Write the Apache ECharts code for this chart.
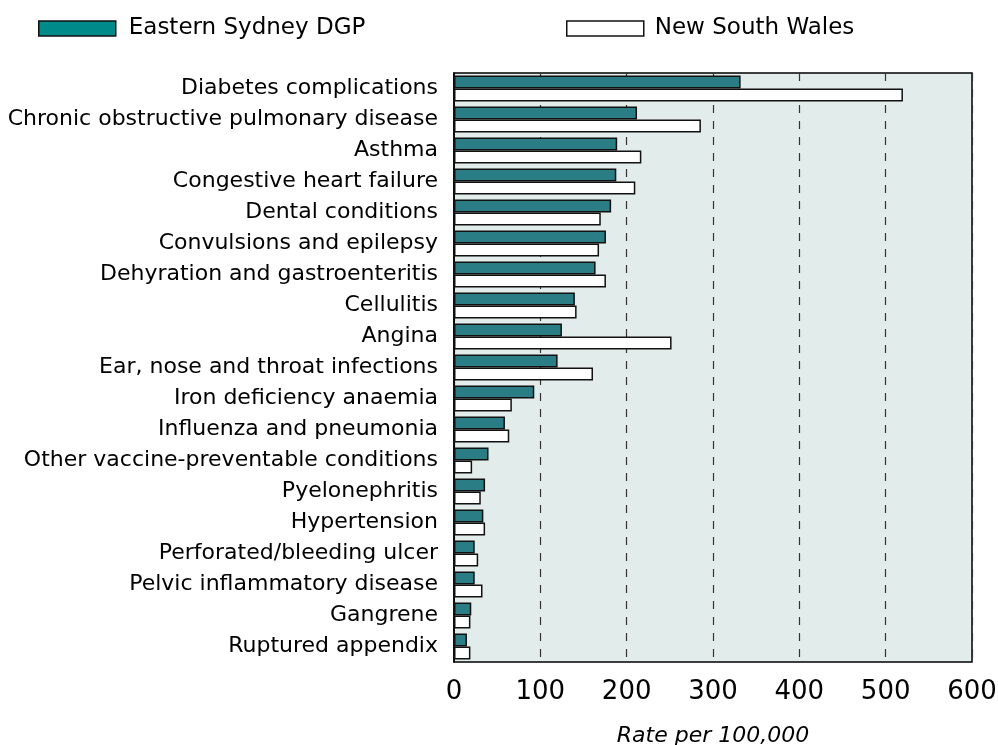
<!DOCTYPE html>
<html><head><meta charset="utf-8">
<script src="https://cdn.jsdelivr.net/npm/echarts@6/dist/echarts.min.js"></script>
<style>html,body{margin:0;padding:0;background:#fff}#c{width:998px;height:745px}</style>
</head><body><div id="c"></div>
<script>
const categories = ["Diabetes complications","Chronic obstructive pulmonary disease","Asthma","Congestive heart failure","Dental conditions","Convulsions and epilepsy","Dehyration and gastroenteritis","Cellulitis","Angina","Ear, nose and throat infections","Iron deficiency anaemia","Influenza and pneumonia","Other vaccine-preventable conditions","Pyelonephritis","Hypertension","Perforated/bleeding ulcer","Pelvic inflammatory disease","Gangrene","Ruptured appendix"];
const easternSydney = [332,212,189,188,182,176,164,140,125,120,93,59,40,36,34,24,24,20,15];
const newSouthWales = [520,286,217,210,170,168,176,142,252,161,67,64,21,31,36,28,33,19,19];
const xTicks = [0,100,200,300,400,500,600];
const FONT = 'DejaVu Sans';
const chart = echarts.init(document.getElementById('c'));
chart.setOption({
  animation:false,
  textStyle:{fontFamily:FONT},
  legend:[
    {data:[{name:'Eastern Sydney DGP',itemStyle:{color:'#008a8a',borderColor:'#111',borderWidth:1.5}}],
     left:38,top:17,padding:0,itemWidth:77,itemHeight:15,icon:'rect',
     textStyle:{fontSize:23,color:'#000',fontFamily:FONT,padding:[0,0,0,8]}},
    {data:[{name:'New South Wales',itemStyle:{color:'#fff',borderColor:'#111',borderWidth:1.5}}],
     left:566,top:17,padding:0,itemWidth:77,itemHeight:15,icon:'rect',
     textStyle:{fontSize:23,color:'#000',fontFamily:FONT,padding:[0,0,0,6]}}
  ],
  grid:{left:454,right:26,top:73,bottom:83,containLabel:false,outerBoundsMode:'none',show:true,backgroundColor:'#e2edeb',borderColor:'#000',borderWidth:1.5},
  xAxis:{type:'value',min:xTicks[0],max:xTicks[xTicks.length-1],interval:100,
    axisLine:{show:false},axisTick:{show:false},
    axisLabel:{fontSize:26,color:'#000',margin:17,fontFamily:FONT},
    splitLine:{show:true,lineStyle:{type:[8,8],color:'#333',width:1.2}},
    name:'Rate per 100,000',nameLocation:'middle',nameGap:63,
    nameTextStyle:{fontSize:22,fontStyle:'italic',color:'#000',fontFamily:FONT}},
  yAxis:{type:'category',data:categories,inverse:true,
    axisLine:{show:true,lineStyle:{color:'#000',width:1.5}},axisTick:{show:false},
    axisLabel:{fontSize:22,color:'#000',margin:16,fontFamily:FONT}},
  series:[
    {name:'Eastern Sydney DGP',type:'bar',data:easternSydney,barGap:'0%',barCategoryGap:'16%',
     itemStyle:{color:'#2a7d84',borderColor:'#111',borderWidth:1.5}},
    {name:'New South Wales',type:'bar',data:newSouthWales,
     itemStyle:{color:'#ffffff',borderColor:'#111',borderWidth:1.5}}
  ]
});
</script></body></html>
